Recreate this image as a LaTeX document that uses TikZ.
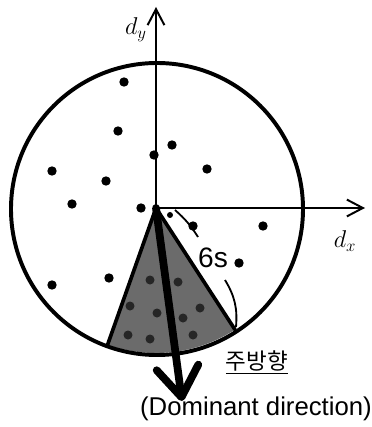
\documentclass[tikz,border=0pt]{standalone}
\usepackage{fontspec}
\setsansfont{Liberation Sans}
\newfontfamily\kofont{Noto Sans CJK KR}
\usepackage{tikz}
\usetikzlibrary{arrows.meta,positioning,calc}

\begin{document}
\begin{tikzpicture}[
  x=0.025cm, y=0.025cm,
  axisline/.style={line width=1.4pt, -{Straight Barb[length=0.4cm, width=0.42cm, line width=1.4pt]}},
  rimline/.style={line width=2.8pt},
  sectorfill/.style={fill=black!58},
  sectoredge/.style={line width=2.6pt, line cap=round},
  domarrow/.style={line width=5.5pt, line cap=round,
    -{Straight Barb[length=0.75cm, width=1.05cm, line width=5.5pt, round]}},
  radiusline/.style={line width=1.3pt},
  axislabel/.style={font=\LARGE, inner sep=0pt},
  sizelabel/.style={font=\sffamily\fontsize{20}{20}\selectfont, inner sep=0pt},
  captionko/.style={font=\kofont\fontsize{16}{16}\selectfont, inner sep=0pt},
  captionen/.style={font=\sffamily\fontsize{18.3}{18.3}\selectfont, inner sep=0pt}
]
\useasboundingbox (-156,-219) rectangle (216,208);
% ---------------- window sector ----------------
\coordinate (O) at (0,0);
\coordinate (sl) at (250.5:145);
\coordinate (sr) at (303:145);
\fill[sectorfill] (O) -- (sl) arc[start angle=250.5, end angle=303, radius=145] -- cycle;
\foreach \px/\py in {-28/-127, -6/-131, 1/-105, -26/-98, -6/-72, 22/-74, 44/-100, 27/-110, 37/-127}
  \fill[black!85] (\px,\py) circle (4.5);
\draw[sectoredge] (sl) -- (O) -- (sr);
% ---------------- region and keypoints ----------------
\draw[rimline] (1,-1) circle (146);
\foreach \px/\py in {-32/126, -38/77, 16/63, -2/53, 51/39, -104/37, -50/27, -84/4,
    -15/0, 37/-18, 107/-18, 83/-55, -104/-77, -47/-70}
  \fill (\px,\py) circle (4.7);
\fill (14,-7) circle (3);
% ---------------- axes ----------------
\coordinate (ytip) at (0,201);
\coordinate (xtip) at (209,0);
\draw[axisline] (O) -- (ytip);
\draw[axisline] (O) -- (xtip);
\node[axislabel] (dy) at (-20,178) {$d_y$};
\node[axislabel] (dx) at (189,-33) {$d_x$};
% ---------------- radius 6s ----------------
\node[sizelabel] (six) at (57,-50) {6s};
\coordinate (r0) at (19,-2);
\coordinate (r1) at (42,-29);
\coordinate (r2) at (69,-72);
\coordinate (r3) at (80,-119);
\draw[radiusline] (r0) to[bend left=8] (r1);
\draw[radiusline] (r2) to[bend left=18] (r3);
% ---------------- dominant direction ----------------
\coordinate (dom) at (26,-193);
\draw[domarrow] (O) -- (dom);
\node[captionko] (domko) at (101,-154) {\underline{주방향}};
\node[captionen] (domen) at (100,-201) {(Dominant direction)};
\end{tikzpicture}
\end{document}
